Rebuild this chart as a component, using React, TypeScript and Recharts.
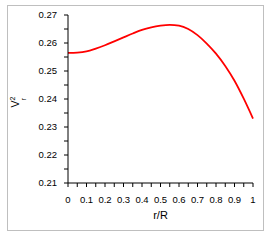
import { LineChart, Line, XAxis, YAxis } from "recharts";

// r/R positions and V_r^2 values
const rR = [0, 0.05, 0.1, 0.15, 0.2, 0.25, 0.3, 0.35, 0.4, 0.45, 0.5, 0.55, 0.6, 0.65, 0.7, 0.75, 0.8, 0.85, 0.9, 0.95, 1];
const vr2 = [
  0.2565, 0.2566, 0.257, 0.258, 0.2592, 0.2606, 0.262, 0.2634, 0.2647, 0.2656, 0.2662,
  0.2665, 0.2662, 0.265, 0.2628, 0.2598, 0.2562, 0.2518, 0.2465, 0.2401, 0.233,
];

const xTicks = [0, 0.05, 0.1, 0.15, 0.2, 0.25, 0.3, 0.35, 0.4, 0.45, 0.5, 0.55, 0.6, 0.65, 0.7, 0.75, 0.8, 0.85, 0.9, 0.95, 1];
const xLabels = ["0", "", "0.1", "", "0.2", "", "0.3", "", "0.4", "", "0.5", "", "0.6", "", "0.7", "", "0.8", "", "0.9", "", "1"];
const yTicks = [0.21, 0.215, 0.22, 0.225, 0.23, 0.235, 0.24, 0.245, 0.25, 0.255, 0.26, 0.265, 0.27];
const yLabels = ["0.21", "", "0.22", "", "0.23", "", "0.24", "", "0.25", "", "0.26", "", "0.27"];

const data = rR.map((r, i) => ({ r, v: vr2[i] }));

const font = "'Liberation Sans', Arial, sans-serif";
const tickStyle = { fill: "#000", fontSize: 9.5, fontFamily: font };

const YLabel = (props: any) => {
  const vb = props.viewBox || {};
  const cx = 18.5;
  const cy = (vb.y ?? 15) + (vb.height ?? 168) / 2 + 3;
  return (
    <text
      x={cx}
      y={cy}
      transform={`rotate(-90, ${cx}, ${cy})`}
      textAnchor="middle"
      fill="#000"
      fontFamily={font}
      fontSize={10.5}
    >
      <tspan>V</tspan>
      <tspan fontSize={7} dy={-4}>2</tspan>
      <tspan fontSize={7} dx={-3.9} dy={11}>r</tspan>
    </text>
  );
};

export default function App() {
  return (
    <div style={{ position: "absolute", left: 0, top: 0, width: 272, height: 240, background: "#fff" }}>
      <div
        style={{
          position: "absolute",
          left: 7,
          top: 5,
          width: 257,
          height: 226,
          border: "1px solid #bfbfbf",
          boxSizing: "border-box",
        }}
      />
      <div style={{ position: "absolute", left: 0, top: 0 }}>
        <LineChart width={272} height={240} data={data} margin={{ top: 15, right: 19, bottom: 27, left: 0 }}>
          <XAxis
            dataKey="r"
            type="number"
            domain={[0, 1]}
            ticks={xTicks}
            interval={0}
            tickFormatter={(_v: number, i: number) => xLabels[i]}
            tick={tickStyle}
            tickSize={4}
            tickMargin={9}
            stroke="#000"
            height={30}
            label={{ value: "r/R", position: "insideBottom", offset: -6, fill: "#000", fontSize: 11, fontFamily: font }}
          />
          <YAxis
            type="number"
            domain={[0.21, 0.27]}
            ticks={yTicks}
            interval={0}
            tickFormatter={(_v: number, i: number) => yLabels[i]}
            tick={tickStyle}
            tickSize={4}
            tickMargin={7}
            stroke="#000"
            width={68}
            allowDataOverflow
            label={YLabel}
          />
          <Line
            dataKey="v"
            type="monotone"
            stroke="#ff0000"
            strokeWidth={1.75}
            dot={false}
            isAnimationActive={false}
          />
        </LineChart>
      </div>
    </div>
  );
}
